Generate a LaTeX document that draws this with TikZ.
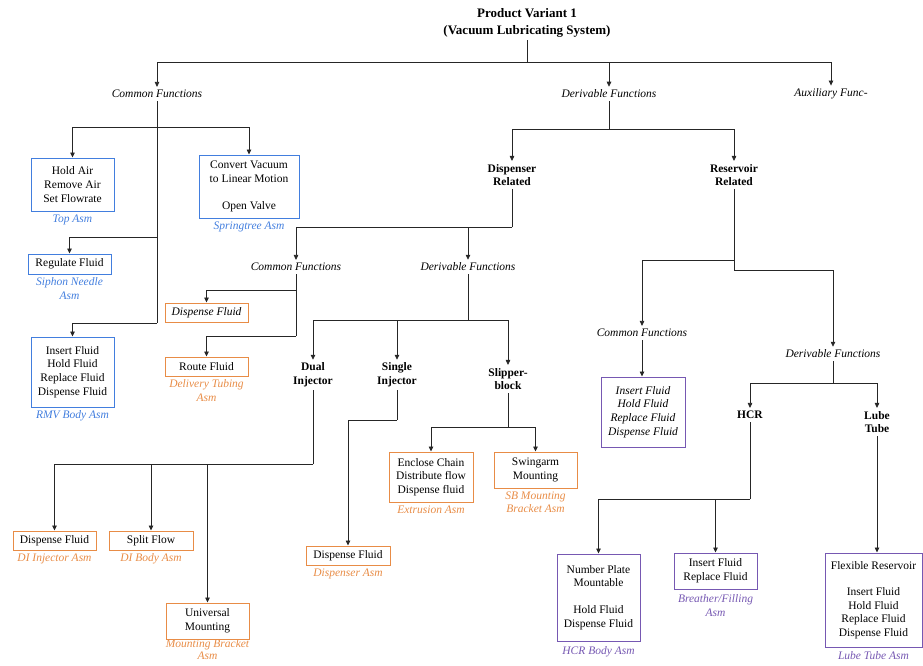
\documentclass[tikz,border=0pt]{standalone}
\usepackage{fontspec}
\setmainfont{Liberation Serif}
\usetikzlibrary{positioning, calc}
\usetikzlibrary{arrows.meta}
\definecolor{asmblue}{RGB}{66,126,222}
\definecolor{asmorange}{RGB}{232,140,70}
\definecolor{asmpurple}{RGB}{118,88,178}

\begin{document}
\fontsize{11.5}{13.6}\selectfont
\begin{tikzpicture}[x=1pt,y=-1pt]
	\tikzstyle{conn}=[draw=black!85,line width=0.8pt]
	\tikzstyle{arr}=[conn,-{Triangle[length=5pt,width=4.5pt]}]
	\tikzstyle{func}=[font=\itshape,inner sep=3pt]
	\tikzstyle{cat}=[font=\bfseries,align=center,inner sep=3pt]
	\tikzstyle{b-box}=[draw=asmblue,line width=1pt,align=center,inner sep=2pt]
	\tikzstyle{o-box}=[draw=asmorange,line width=1pt,align=center,inner sep=2pt]
	\tikzstyle{p-box}=[draw=asmpurple,line width=1pt,align=center,inner sep=2pt]
	\tikzstyle{b-lab}=[text=asmblue,font=\itshape,align=center,inner sep=1pt]
	\tikzstyle{o-lab}=[text=asmorange,font=\itshape,align=center,inner sep=1pt]
	\tikzstyle{p-lab}=[text=asmpurple,font=\itshape,align=center,inner sep=1pt]
	\useasboundingbox (0,0) rectangle (923,665);

	% title
	\node[cat,font=\fontsize{13}{17}\selectfont\bfseries] (title) at (527,22.5) {Product Variant 1\\(Vacuum Lubricating System)};

	% function groups
	\node[func] (cf1) at (157,94) {Common Functions};
	\node[func] (df1) at (609,94) {Derivable Functions};
	\node[func] (aux) at (831,94) {Auxiliary Func-};
	\node[cat]  (disprel) at (512,175) {Dispenser\\Related};
	\node[cat]  (resrel) at (734,175) {Reservoir\\Related};
	\node[func] (cf2) at (296,267) {Common Functions};
	\node[func] (df2) at (468,267) {Derivable Functions};
	\node[cat]  (dual) at (313,375) {Dual\\Injector};
	\node[cat]  (single) at (397,375) {Single\\Injector};
	\node[cat]  (slipper) at (508,379) {Slipper-\\block};
	\node[func] (cf3) at (642,333) {Common Functions};
	\node[func] (df3) at (833,354) {Derivable Functions};
	\node[cat]  (hcr) at (750,415) {HCR};
	\node[cat]  (lube) at (877,422) {Lube\\Tube};

	% common assemblies
	\node[b-box,minimum width=83pt,minimum height=53pt] (tapbox) at (72.5,184.5) {Hold Air\\Remove Air\\Set Flowrate};
	\node[b-lab,below=2pt of tapbox] (taplab) {Top Asm};
	\node[b-box,minimum width=100pt,minimum height=63pt] (springbox) at (249,186.5) {Convert Vacuum\\to Linear Motion\\[13pt]Open Valve};
	\node[b-lab,below=2pt of springbox] (springlab) {Springtree Asm};
	\node[b-box,minimum width=83pt,minimum height=20pt] (siphonbox) at (69.5,264) {Regulate Fluid};
	\node[b-lab,below=2pt of siphonbox] (siphonlab) {Siphon Needle\\Asm};
	\node[b-box,minimum width=83pt,minimum height=70pt] (rmvbox) at (72.5,372) {Insert Fluid\\Hold Fluid\\Replace Fluid\\Dispense Fluid};
	\node[b-lab,below=2pt of rmvbox] (rmvlab) {RMV Body Asm};

	% dispenser assemblies
	\node[o-box,minimum width=83pt,minimum height=19pt,font=\itshape] (dfbox) at (206.5,312.5) {Dispense Fluid};
	\node[o-box,minimum width=83pt,minimum height=19pt] (routebox) at (206.5,366.5) {Route Fluid};
	\node[o-lab,below=2pt of routebox] (routelab) {Delivery Tubing\\Asm};
	\node[o-box,minimum width=83pt,minimum height=19pt] (dibox) at (54.5,540.5) {Dispense Fluid};
	\node[o-lab,below=2pt of dibox] (dilab) {DI Injector Asm};
	\node[o-box,minimum width=84pt,minimum height=19pt] (splitbox) at (151,540.5) {Split Flow};
	\node[o-lab,below=2pt of splitbox] (splitlab) {DI Body Asm};
	\node[o-box,minimum width=83pt,minimum height=36pt] (univbox) at (207.5,621) {Universal\\Mounting};
	\node[o-lab,below=0pt of univbox,inner sep=0pt,font=\fontsize{11.5}{12.2}\selectfont\itshape] (univlab) {Mounting Bracket\\Asm};
	\node[o-box,minimum width=84pt,minimum height=19pt] (sibox) at (348,555.5) {Dispense Fluid};
	\node[o-lab,below=2pt of sibox] (silab) {Dispenser Asm};
	\node[o-box,minimum width=84pt,minimum height=50pt] (extbox) at (431,477) {Enclose Chain\\Distribute flow\\Dispense fluid};
	\node[o-lab,below=2pt of extbox] (extlab) {Extrusion Asm};
	\node[o-box,minimum width=83pt,minimum height=36pt] (swingbox) at (535.5,470) {Swingarm\\Mounting};
	\node[o-lab,below=2pt of swingbox] (swinglab) {SB Mounting\\Bracket Asm};

	% reservoir assemblies
	\node[p-box,minimum width=84pt,minimum height=70pt,font=\itshape] (resbox) at (643,412) {Insert Fluid\\Hold Fluid\\Replace Fluid\\Dispense Fluid};
	\node[p-box,minimum width=83pt,minimum height=87pt] (hcrbox) at (598.5,597.5) {Number Plate\\Mountable\\[13pt]Hold Fluid\\Dispense Fluid};
	\node[p-lab,below=4pt of hcrbox] (hcrlab) {HCR Body Asm};
	\node[p-box,minimum width=83pt,minimum height=36pt] (breathbox) at (715.5,571) {Insert Fluid\\Replace Fluid};
	\node[p-lab,below=4pt of breathbox] (breathlab) {Breather/Filling\\Asm};
	\node[p-box,minimum width=97pt,minimum height=94pt] (flexbox) at (873.5,600) {Flexible Reservoir\\[13pt]Insert Fluid\\Hold Fluid\\Replace Fluid\\Dispense Fluid};
	\node[p-lab,below=3pt of flexbox] (flexlab) {Lube Tube Asm};

	% junctions
	\coordinate (j0) at (527,62);
	\coordinate (c1a) at (157,127);
	\coordinate (c1b) at (157,237);
	\coordinate (c1c) at (157,323);
	\coordinate (d1) at (609,129);
	\coordinate (dr) at (512,227);
	\coordinate (c2a) at (296,290);
	\coordinate (c2b) at (296,336);
	\coordinate (d2) at (468,320);
	\coordinate (du) at (313,464);
	\coordinate (si) at (397,420);
	\coordinate (sl) at (508,427);
	\coordinate (r1) at (734,260);
	\coordinate (r2) at (734,270);
	\coordinate (d3) at (833,383);
	\coordinate (hc) at (750,499);

	\draw[conn] (title) -- (j0);
	\draw[arr] (j0) -| (cf1);
	\draw[arr] (j0) -| (df1);
	\draw[arr] (j0) -| (aux);
	%
	\draw[conn] (cf1) -- (c1c);
	\draw[arr] (c1a) -| (tapbox);
	\draw[arr] (c1a) -| (springbox);
	\draw[arr] (c1b) -| (siphonbox);
	\draw[arr] (c1c) -| (rmvbox);
	%
	\draw[conn] (df1) -- (d1);
	\draw[arr] (d1) -| (disprel);
	\draw[arr] (d1) -| (resrel);
	%
	\draw[conn] (disprel) -- (dr);
	\draw[arr] (dr) -| (cf2);
	\draw[arr] (dr) -| (df2);
	\draw[conn] (cf2) -- (c2b);
	\draw[arr] (c2a) -| (dfbox);
	\draw[arr] (c2b) -| (routebox);
	\draw[conn] (df2) -- (d2);
	\draw[arr] (d2) -| (dual);
	\draw[arr] (d2) -| (single);
	\draw[arr] (d2) -| (slipper);
	%
	\draw[conn] (dual) -- (du);
	\draw[arr] (du) -| (dibox);
	\draw[arr] (du) -| (splitbox);
	\draw[arr] (du) -| (univbox);
	\draw[conn] (single) -- (si);
	\draw[arr] (si) -| (sibox);
	\draw[conn] (slipper) -- (sl);
	\draw[arr] (sl) -| (extbox);
	\draw[arr] (sl) -| (swingbox);
	%
	\draw[conn] (resrel) -- (r2);
	\draw[arr] (r1) -| (cf3);
	\draw[arr] (r2) -| (df3);
	\draw[arr] (cf3) -- (cf3 |- resbox.north);
	\draw[conn] (df3) -- (d3);
	\draw[arr] (d3) -| (hcr);
	\draw[arr] (d3) -| (lube);
	\draw[conn] (hcr) -- (hc);
	\draw[arr] (hc) -| (hcrbox);
	\draw[arr] (hc) -| (breathbox);
	\draw[arr] (lube) -- (lube |- flexbox.north);
\end{tikzpicture}
\end{document}
